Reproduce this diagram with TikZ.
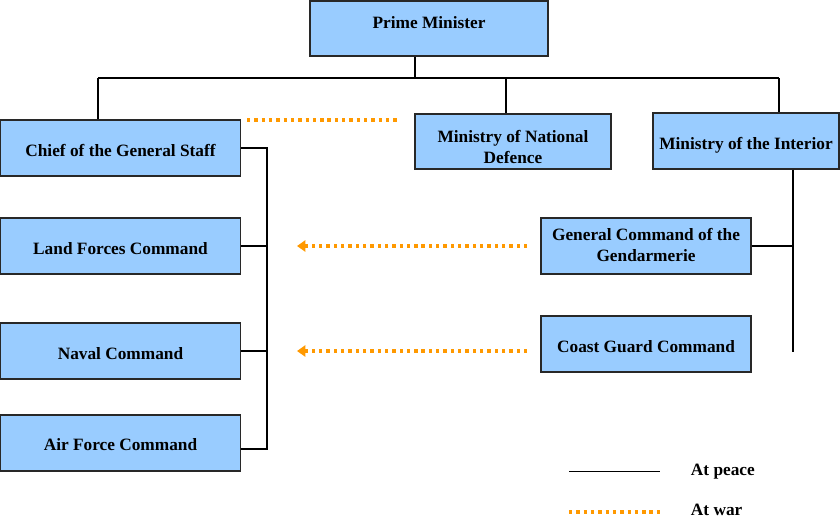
\documentclass[tikz,border=0pt]{standalone}
\usepackage{fontspec}
\setmainfont{Liberation Serif}
\definecolor{orgblue}{RGB}{153,204,255}
\definecolor{orgedge}{RGB}{40,40,40}
\definecolor{warorange}{RGB}{255,153,0}
\usetikzlibrary{arrows.meta}

\begin{document}
\begin{tikzpicture}[x=0.025cm, y=-0.025cm,
  unit/.style={draw=orgedge, fill=orgblue, line width=0.8pt, align=center, inner sep=2pt,
    font=\fontsize{12.3}{15}\selectfont\bfseries, minimum height=1.4cm,
    text height=11.5pt, text depth=0pt},
  peace/.style={line width=0.8pt, black},
  war/.style={line width=2.4pt, warorange, dash pattern=on 2.4pt off 2.8pt}]
  \useasboundingbox (0,0) rectangle (840,520);

  %--- Top of the chain ---
  \node[unit, minimum width=5.95cm, minimum height=1.375cm, text height=5pt, text depth=5pt] (pm) at (429,28.5) {Prime Minister};

  \node[unit, minimum width=6cm] (chief) at (120.5,148) {Chief of the General Staff};
  \node[unit, minimum width=4.9cm, minimum height=1.375cm, text height=31.5pt] (mnd) at (513,141.5) {Ministry of National\\Defence};
  \node[unit, minimum width=4.65cm] (moi) at (746,141) {Ministry of the Interior};

  \coordinate (bus) at (415,78);
  \coordinate (busl) at (98,78);
  \coordinate (busm) at (506,78);
  \coordinate (busr) at (779,78);
  \draw[peace] (pm.south -| bus) -- (bus);
  \draw[peace] (busl) -- (busr);
  \draw[peace] (busl) -- (busl |- chief.north);
  \draw[peace] (busm) -- (busm |- mnd.north);
  \draw[peace] (busr) -- (busr |- moi.north);

  %--- General Staff commands ---
  \node[unit, minimum width=6cm] (land) at (120.5,246) {Land Forces Command};
  \node[unit, minimum width=6cm] (naval) at (120.5,351) {Naval Command};
  \node[unit, minimum width=6cm, text height=10pt] (air) at (120.5,443) {Air Force Command};

  \coordinate (gstop) at (267,148);
  \coordinate (gsend) at (267,449);
  \draw[peace] (chief.east) -- (gstop) -- (gsend) -- (gsend -| air.east);
  \draw[peace] (land.east) -- (land.east -| gstop);
  \draw[peace] (naval.east) -- (naval.east -| gstop);

  %--- Interior commands ---
  \node[unit, minimum width=5.25cm, text height=22pt] (gend) at (646,246) {General Command of the\\Gendarmerie};
  \node[unit, minimum width=5.25cm] (coast) at (646,344) {Coast Guard Command};

  \coordinate (isend) at (793,352);
  \draw[peace] (moi.south -| isend) -- (isend);
  \draw[peace] (gend.east) -- (gend.east -| isend);

  %--- At war ---
  \coordinate (wara) at (247,120);
  \coordinate (warb) at (398,120);
  \coordinate (landtip) at (297,246);
  \coordinate (navaltip) at (297,351);
  \draw[war] (wara) -- (warb);
  \draw[war, shorten <=0.33cm, -{Triangle[width=8pt,length=6pt]}] (gend.west) -- (landtip);
  \draw[war, shorten <=0.33cm, -{Triangle[width=8pt,length=6pt]}] (coast.west |- navaltip) -- (navaltip);

  %--- Legend ---
  \coordinate (legpeace) at (569,471);
  \coordinate (legwar) at (569,512);
  \draw[line width=0.6pt, black] (legpeace) -- ++(91,0);
  \draw[war] (legwar) -- ++(91,0);
  \node[anchor=west, font=\fontsize{12.3}{15}\selectfont\bfseries] (peacetxt) at (686,472) {At peace};
  \node[anchor=west, font=\fontsize{12.3}{15}\selectfont\bfseries] (wartxt) at (686,510) {At war};
\end{tikzpicture}
\end{document}
